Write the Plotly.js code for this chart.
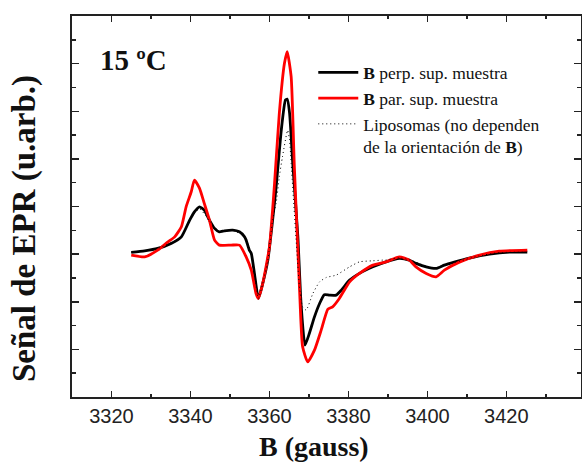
<!DOCTYPE html>
<html>
<head>
<meta charset="utf-8">
<script src="https://cdn.plot.ly/plotly-3.0.1.min.js"></script>
<style>html,body{margin:0;padding:0;background:#fff;}#chart{width:582px;height:465px;}</style>
</head>
<body>
<div id="chart"></div>
<script>
// Magnetic field (gauss) and EPR signal (arbitrary units)
const perpField = [3325.0, 3328.4, 3331.7, 3335.1, 3337.7, 3339.8, 3341.0, 3342.3, 3343.5, 3344.8, 3346.1, 3347.3, 3348.6, 3350.7, 3352.4, 3353.7, 3354.1, 3354.9, 3355.4, 3356.2, 3357.2, 3358.3, 3359.6, 3360.8, 3361.7, 3363.0, 3364.05, 3364.5, 3365.1, 3365.9, 3367.2, 3368.0, 3369.0, 3370.1, 3371.4, 3372.7, 3373.9, 3375.2, 3376.9, 3378.2, 3380.3, 3382.8, 3386.2, 3389.5, 3392.9, 3395.4, 3397.1, 3399.7, 3402.2, 3404.3, 3406.8, 3410.6, 3415.7, 3420.8, 3425.3];
const perpSignal = [0.036, 0.069, 0.12, 0.225, 0.363, 0.714, 0.889, 0.994, 0.924, 0.714, 0.54, 0.468, 0.489, 0.504, 0.468, 0.363, 0.294, 0.084, 0.015, -0.405, -0.931, -0.616, -0.126, 0.714, 1.414, 2.605, 3.235, 3.256, 2.962, 1.912, 0.363, -1.036, -1.912, -1.666, -1.317, -1.036, -0.851, -0.861, -0.861, -0.756, -0.546, -0.405, -0.267, -0.162, -0.090, -0.126, -0.195, -0.267, -0.30, -0.231, -0.168, -0.084, 0.0, 0.042, 0.042];

const parField = [3325.0, 3328.4, 3331.7, 3334.3, 3336.0, 3337.7, 3338.9, 3340.2, 3341.0, 3342.3, 3343.5, 3344.8, 3346.1, 3347.3, 3350.3, 3352.4, 3354.1, 3355.4, 3356.6, 3357.2, 3358.3, 3360.0, 3361.3, 3362.5, 3363.8, 3364.5, 3365.5, 3366.3, 3367.6, 3368.4, 3369.7, 3371.4, 3373.1, 3374.8, 3376.0, 3377.7, 3380.3, 3382.8, 3386.2, 3389.5, 3392.9, 3395.4, 3397.1, 3399.7, 3402.2, 3404.3, 3408.1, 3413.2, 3418.2, 3425.3];
const parSignal = [-0.021, -0.057, 0.084, 0.258, 0.363, 0.574, 0.994, 1.309, 1.555, 1.380, 1.065, 0.714, 0.294, 0.189, 0.189, 0.189, -0.057, -0.336, -0.826, -0.931, -0.616, 0.153, 1.49, 2.956, 4.006, 4.25, 3.725, 1.849, -0.687, -1.947, -2.263, -2.017, -1.597, -1.155, -1.107, -0.931, -0.582, -0.405, -0.231, -0.162, -0.057, -0.126, -0.267, -0.405, -0.477, -0.336, -0.168, -0.021, 0.063, 0.084];

const lipoField = [3325.0, 3331.7, 3337.7, 3340.0, 3342.3, 3344.8, 3347.3, 3350.7, 3353.7, 3355.4, 3357.2, 3358.3, 3359.6, 3360.8, 3361.7, 3362.5, 3363.3, 3364.6, 3365.1, 3365.5, 3366.7, 3367.6, 3368.4, 3369.3, 3371.0, 3372.7, 3374.4, 3376.9, 3380.3, 3382.8, 3386.2, 3389.5, 3392.9, 3395.4, 3399.7, 3402.2, 3404.3, 3408.0, 3413.0, 3418.0, 3425.0];
const lipoSignal = [0.036, 0.12, 0.36, 0.75, 0.95, 0.70, 0.47, 0.50, 0.36, 0.02, -0.93, -0.62, -0.13, 0.714, 1.065, 1.624, 2.044, 2.60, 2.395, 1.905, 0.363, -0.687, -1.107, -1.176, -0.826, -0.582, -0.49, -0.441, -0.267, -0.162, -0.14, -0.12, -0.08, -0.12, -0.25, -0.29, -0.22, -0.15, -0.04, 0.03, 0.04];

const seriesNames = ['<b>B</b> perp. sup. muestra', '<b>B</b> par. sup. muestra', 'Liposomas (no dependen<br>de la orientación de <b>B</b>)'];
const xTickVals = [3320, 3340, 3360, 3380, 3400, 3420];
const xTickText = ['3320', '3340', '3360', '3380', '3400', '3420'];

const serif = 'Liberation Serif, Times New Roman, serif';
const sans = 'Liberation Sans, Arial, sans-serif';

const traces = [
  {x: perpField, y: perpSignal, name: seriesNames[0], type: 'scatter', mode: 'lines',
   line: {color: '#000000', width: 2.8, shape: 'spline', smoothing: 0.5}},
  {x: parField, y: parSignal, name: seriesNames[1], type: 'scatter', mode: 'lines',
   line: {color: '#ff0000', width: 2.8, shape: 'spline', smoothing: 0.5}},
  {x: lipoField, y: lipoSignal, name: seriesNames[2], type: 'scatter', mode: 'lines',
   line: {color: '#000000', width: 1, dash: '1px,3px', shape: 'spline', smoothing: 0.5}}
];

const axisColor = '#222222';
const layout = {
  width: 582, height: 465,
  margin: {l: 72, r: 1, t: 16, b: 68},
  paper_bgcolor: '#ffffff', plot_bgcolor: '#ffffff',
  showlegend: true,
  legend: {
    x: 0.474, y: 0.899, xanchor: 'left', yanchor: 'top',
    bgcolor: 'rgba(0,0,0,0)', borderwidth: 0,
    itemwidth: 40, valign: 'top', tracegroupgap: 0,
    font: {family: serif, size: 17.5, color: '#111111'}
  },
  xaxis: {
    range: [3310, 3438.9], tickvals: xTickVals, ticktext: xTickText,
    ticks: 'inside', ticklen: 6, tickwidth: 1.5, tickcolor: axisColor,
    minor: {dtick: 10, ticks: 'inside', ticklen: 3, tickwidth: 1.5, tickcolor: axisColor, showgrid: false},
    showline: true, linewidth: 2, linecolor: axisColor, mirror: 'ticks',
    showgrid: false, zeroline: false,
    tickfont: {family: sans, size: 20, color: '#222222'}
  },
  yaxis: {
    range: [-3, 5], dtick: 1, tick0: 0, showticklabels: false,
    ticks: 'inside', ticklen: 7, tickwidth: 1.5, tickcolor: axisColor,
    minor: {dtick: 0.5, ticks: 'inside', ticklen: 4, tickwidth: 1.5, tickcolor: axisColor, showgrid: false},
    showline: true, linewidth: 2, linecolor: axisColor, mirror: 'ticks',
    showgrid: false, zeroline: false
  },
  annotations: [
    {text: '<b>B (gauss)</b>', xref: 'paper', yref: 'paper', x: (313.5 - 72) / 509, y: (397 - 447) / 381,
     xanchor: 'center', yanchor: 'middle', showarrow: false,
     font: {family: serif, size: 28, color: '#111111'}},
    {text: '<b>Señal de EPR (u.arb.)</b>', xref: 'paper', yref: 'paper', x: (24 - 72) / 509, y: (397 - 229) / 381,
     xanchor: 'center', yanchor: 'middle', textangle: -90, showarrow: false,
     font: {family: serif, size: 33, color: '#111111'}},
    {text: '<b>15 ºC</b>', xref: 'paper', yref: 'paper', x: (133.7 - 72) / 509, y: (397 - 60) / 381,
     xanchor: 'center', yanchor: 'middle', showarrow: false,
     font: {family: serif, size: 29, color: '#111111'}}
  ]
};

Plotly.newPlot('chart', traces, layout, {displayModeBar: false, staticPlot: true});
</script>
</body>
</html>
